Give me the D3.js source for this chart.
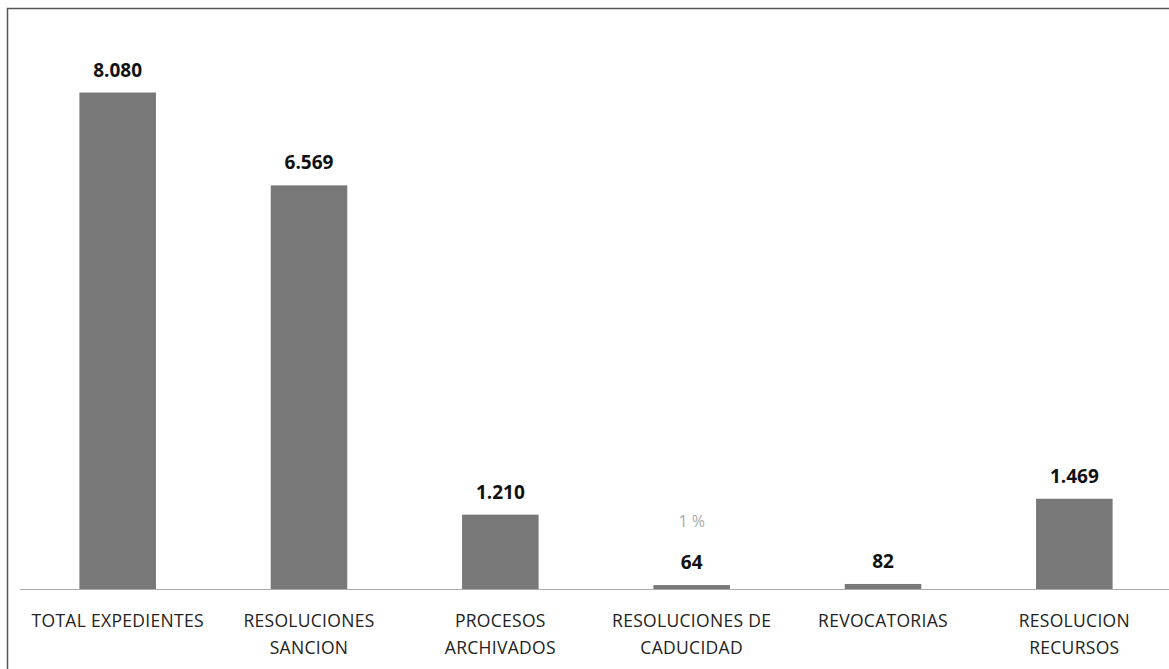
<!DOCTYPE html>
<html>
<head>
<meta charset="utf-8">
<script src="https://cdn.jsdelivr.net/npm/d3@7"></script>
<style>
  body { margin: 0; background: #fff; }
  svg { display: block; }
</style>
</head>
<body>
<div id="chart"></div>
<script>

var categories = [
    ['TOTAL EXPEDIENTES'],
    ['RESOLUCIONES', 'SANCION'],
    ['PROCESOS', 'ARCHIVADOS'],
    ['RESOLUCIONES DE', 'CADUCIDAD'],
    ['REVOCATORIAS'],
    ['RESOLUCION', 'RECURSOS']
];
var values = [8080, 6569, 1210, 64, 82, 1469];
var extraLabels = ['', '', '', '1 %', '', ''];

var width = 1169;
var height = 669;
var baseY = 589;

var esFormat = d3.formatLocale({ decimal: ',', thousands: '.', grouping: [3], currency: ['', ''] }).format(',d');

var svg = d3.select('#chart')
    .append('svg')
        .attr('width', width)
        .attr('height', height);

// marco del grafico
svg.append('rect')
    .attr('x', 7.5)
    .attr('y', 8.5)
    .attr('width', width + 10)
    .attr('height', height + 10)
    .attr('fill', 'none')
    .attr('stroke', '#555')
    .attr('stroke-width', 1.5);

var x = d3.scaleBand()
    .domain(d3.range(values.length))
    .range([22, 1170])
    .paddingInner(0.6)
    .paddingOuter(0.3);

var y = d3.scaleLinear()
    .domain([0, 9000])
    .range([baseY, 36]);

svg.selectAll('rect.bar')
    .data(values)
    .enter().append('rect')
        .attr('class', 'bar')
        .attr('x', function(d, i) { return x(i); })
        .attr('y', function(d) { return y(d); })
        .attr('width', x.bandwidth())
        .attr('height', function(d) { return baseY - y(d); })
        .attr('fill', '#787878');

// eje x
svg.append('line')
    .attr('x1', 20)
    .attr('x2', width)
    .attr('y1', baseY + 0.5)
    .attr('y2', baseY + 0.5)
    .attr('stroke', '#aaa')
    .attr('stroke-width', 1);

svg.selectAll('text.val')
    .data(values)
    .enter().append('text')
        .attr('class', 'val')
        .attr('x', function(d, i) { return x(i) + x.bandwidth() / 2; })
        .attr('y', function(d) { return y(d) - 16; })
        .attr('text-anchor', 'middle')
        .attr('font-family', 'Open Sans, sans-serif')
        .attr('font-size', 19)
        .attr('font-weight', 'bold')
        .attr('fill', '#111')
        .text(function(d) { return esFormat(d); });

svg.selectAll('text.extra')
    .data(extraLabels)
    .enter().append('text')
        .attr('class', 'extra')
        .attr('x', function(d, i) { return x(i) + x.bandwidth() / 2; })
        .attr('y', function(d, i) { return y(values[i]) - 58; })
        .attr('text-anchor', 'middle')
        .attr('font-family', 'Open Sans, sans-serif')
        .attr('font-size', 16)
        .attr('fill', '#aaa')
        .text(function(d) { return d; });

var catText = svg.selectAll('text.cat')
    .data(categories)
    .enter().append('text')
        .attr('class', 'cat')
        .attr('text-anchor', 'middle')
        .attr('font-family', 'Open Sans, sans-serif')
        .attr('font-size', 17.5)
        .attr('letter-spacing', 0.3)
        .attr('fill', '#222');

catText.selectAll('tspan')
    .data(function(d, i) { return d.map(function(t) { return { t: t, i: i }; }); })
    .enter().append('tspan')
        .attr('x', function(d) { return x(d.i) + x.bandwidth() / 2; })
        .attr('y', function(d, j) { return 627 + j * 27; })
        .text(function(d) { return d.t; });

</script>
</body>
</html>
